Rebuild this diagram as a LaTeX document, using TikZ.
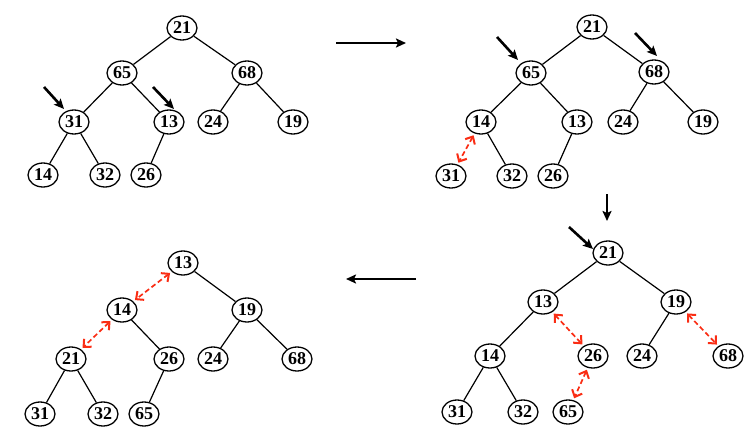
\documentclass[tikz,border=0pt]{standalone}
\usepackage{fontspec}
\setmainfont{Liberation Serif}
\usetikzlibrary{shapes.geometric,arrows.meta}
\definecolor{swapred}{RGB}{250,45,20}
\tikzset{
  hn/.style={ellipse,draw,line width=1.3pt,minimum width=30pt,minimum height=24pt,inner sep=0pt,font=\fontsize{18}{18}\selectfont\bfseries},
  edge/.style={line width=1.2pt},
  ptr/.style={line width=2.6pt,-{Stealth[length=10pt,width=9pt,inset=2pt]}},
  swp/.style={swapred,line width=1.7pt,dash pattern=on 5pt off 3pt,shorten <=2pt,shorten >=2pt,{Straight Barb[length=6pt,width=11pt,line width=2pt]}-{Straight Barb[length=6pt,width=11pt,line width=2pt]}}
}
\begin{document}
\begin{tikzpicture}[x=1pt,y=-1pt]
\useasboundingbox (0,0) rectangle (754,439);
% Tree 1
\node[hn] (a21) at (182,28) {21};
\node[hn] (a65) at (122,73) {65};
\node[hn] (a68) at (247,73) {68};
\node[hn] (a31) at (74,122) {31};
\node[hn] (a13) at (169,122) {13};
\node[hn] (a24) at (213,122) {24};
\node[hn] (a19) at (293,122) {19};
\node[hn] (a14) at (43,175) {14};
\node[hn] (a32) at (105,175) {32};
\node[hn] (a26) at (146,175) {26};
\draw[edge] (a21)--(a65) (a21)--(a68) (a65)--(a31) (a65)--(a13) (a68)--(a24) (a68)--(a19) (a31)--(a14) (a31)--(a32) (a13)--(a26);
\coordinate (p1s) at (44,87); \coordinate (p1e) at (64,109);
\coordinate (p2s) at (153,87); \coordinate (p2e) at (174,109);
\draw[ptr] (p1s)--(p1e);
\draw[ptr] (p2s)--(p2e);
% arrow right
\coordinate (r1s) at (336,43); \coordinate (r1e) at (406,43);
\draw[ptr] (r1s)--(r1e);
% Tree 2
\node[hn] (b21) at (592,27) {21};
\node[hn] (b65) at (531,73) {65};
\node[hn] (b68) at (654,72) {68};
\node[hn] (b14) at (481,122) {14};
\node[hn] (b13) at (577,122) {13};
\node[hn] (b24) at (623,122) {24};
\node[hn] (b19) at (703,122) {19};
\node[hn] (b31) at (451,176) {31};
\node[hn] (b32) at (512,176) {32};
\node[hn] (b26) at (553,176) {26};
\draw[edge] (b21)--(b65) (b21)--(b68) (b65)--(b14) (b65)--(b13) (b68)--(b24) (b68)--(b19) (b14)--(b32) (b13)--(b26);
\draw[swp] (b14)--(b31);
\coordinate (q1s) at (497,37); \coordinate (q1e) at (518,60);
\coordinate (q2s) at (635,33); \coordinate (q2e) at (657,56);
\draw[ptr] (q1s)--(q1e);
\draw[ptr] (q2s)--(q2e);
% arrow down
\coordinate (d1s) at (607,194); \coordinate (d1e) at (607,221);
\draw[ptr] (d1s)--(d1e);
% Tree 3
\node[hn] (c21) at (608,253) {21};
\node[hn] (c13) at (543,302) {13};
\node[hn] (c19) at (676,302) {19};
\node[hn] (c14) at (490,356) {14};
\node[hn] (c26) at (593,356) {26};
\node[hn] (c24) at (642,356) {24};
\node[hn] (c68) at (728,356) {68};
\node[hn] (c31) at (457,412) {31};
\node[hn] (c32) at (523,412) {32};
\node[hn] (c65) at (568,412) {65};
\draw[edge] (c21)--(c13) (c21)--(c19) (c13)--(c14) (c19)--(c24) (c14)--(c31) (c14)--(c32);
\draw[swp] (c13)--(c26);
\draw[swp] (c19)--(c68);
\draw[swp] (c26)--(c65);
\coordinate (s1s) at (569,227); \coordinate (s1e) at (593,249);
\draw[ptr] (s1s)--(s1e);
% arrow left
\coordinate (l1s) at (416,279); \coordinate (l1e) at (346,279);
\draw[ptr] (l1s)--(l1e);
% Tree 4
\node[hn] (e13) at (183,263) {13};
\node[hn] (e14) at (122,310) {14};
\node[hn] (e19) at (247,310) {19};
\node[hn] (e21) at (71,359) {21};
\node[hn] (e26) at (169,359) {26};
\node[hn] (e24) at (213,359) {24};
\node[hn] (e68) at (297,359) {68};
\node[hn] (e31) at (40,414) {31};
\node[hn] (e32) at (103,414) {32};
\node[hn] (e65) at (144,414) {65};
\draw[edge] (e13)--(e19) (e14)--(e26) (e19)--(e24) (e19)--(e68) (e21)--(e31) (e21)--(e32) (e26)--(e65);
\draw[swp] (e13)--(e14);
\draw[swp] (e14)--(e21);
\end{tikzpicture}
\end{document}
